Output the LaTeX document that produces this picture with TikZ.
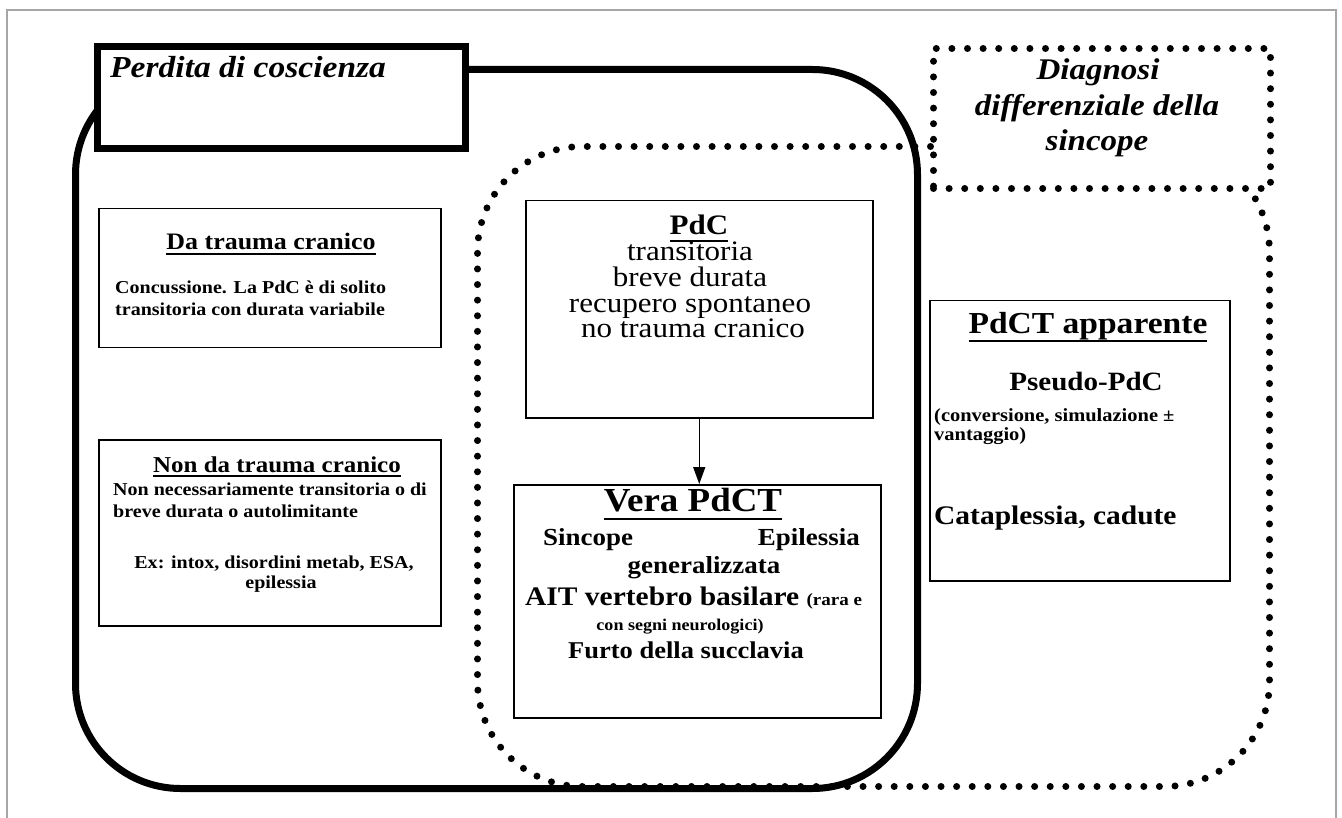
\documentclass[tikz,border=0pt]{standalone}
\usepackage{fontspec}
\setmainfont{Liberation Serif}[FakeStretch=1.1]
\usetikzlibrary{arrows.meta}
\newcommand{\fs}[2]{\fontsize{#1}{#2}\selectfont}
\newcommand{\undl}[2][5pt]{\setbox0\hbox{#2}\rlap{\rule[-#1]{\wd0}{2pt}}\box0}
\tikzset{
  thinbox/.style={draw, line width=1.5pt, fill=white, inner sep=0pt, anchor=north west},
  dotline/.style={line width=7pt, line cap=round, dash pattern=on 0pt off 15.6pt},
  thickline/.style={line width=7pt},
  txt/.style={inner sep=0pt, text=black},
}
\begin{document}
\begin{tikzpicture}[x=1pt,y=-1pt]
\useasboundingbox (0,0) rectangle (1342,818);
% outer frame
\draw[gray!70, line width=1.5pt] (7,818) -- (7,10) -- (1336,10) -- (1336,818);

% big dotted region (syncope differential)
\node[dotline, draw, rounded corners=105pt, minimum width=792, minimum height=640, inner sep=0pt, anchor=north west] (dotreg) at (474,143) {};
% big black rounded region (loss of consciousness)
\node[thickline, draw, rounded corners=105pt, minimum width=842, minimum height=719, inner sep=0pt, anchor=north west] (blkreg) at (72,66) {};
% Diagnosi box
\node[dotline, draw, fill=white, minimum width=337, minimum height=140, inner sep=0pt, anchor=north west] (diag) at (930,45) {};
% Title box
\node[thickline, draw, fill=white, minimum width=368, minimum height=101.5, inner sep=0pt, anchor=north west] (title) at (93.5,43.5) {};

% inner boxes
\node[thinbox, minimum width=342, minimum height=139] (da) at (98,208) {};
\node[thinbox, minimum width=342, minimum height=186] (nonda) at (98,439) {};
\node[thinbox, minimum width=347, minimum height=217] (pdc) at (525,200) {};
\node[thinbox, minimum width=367, minimum height=233] (vera) at (513,484) {};
\node[thinbox, minimum width=300, minimum height=280] (app) at (929,300) {};

% arrow
\draw[line width=1.5pt, -{Triangle[length=17pt,width=12pt]}] (pdc.south) -- (pdc.south |- vera.north);

% texts: title
\node[txt, anchor=base west, font=\fs{30.5}{34}\bfseries\itshape] (tt) at (110,78) {Perdita di coscienza};
% Diagnosi
\node[txt, anchor=base, font=\fs{30}{34}\bfseries\itshape] (d1) at (1098,80) {Diagnosi};
\node[txt, anchor=base, font=\fs{30}{34}\bfseries\itshape] (d2) at (1097,116) {differenziale della};
\node[txt, anchor=base, font=\fs{30}{34}\bfseries\itshape] (d3) at (1097,151) {sincope};

% Da trauma cranico
\node[txt, anchor=base, font=\fs{23.6}{26}\bfseries] (da1) at (271,250) {\undl{Da trauma cranico}};
\node[txt, anchor=base west, font=\fs{18.2}{20}\bfseries] (da2) at (115,294) {Concussione. La PdC è di solito};
\node[txt, anchor=base west, font=\fs{18.2}{20}\bfseries] (da3) at (115,316) {transitoria con durata variabile};

% Non da trauma cranico
\node[txt, anchor=base, font=\fs{22.7}{26}\bfseries] (nd1) at (277,472) {\undl{Non da trauma cranico}};
\node[txt, anchor=base west, font=\fs{18.2}{20}\bfseries] (nd2) at (113,495) {Non necessariamente transitoria o di};
\node[txt, anchor=base west, font=\fs{18.2}{20}\bfseries] (nd3) at (113,517) {breve durata o autolimitante};
\node[txt, anchor=base, font=\fs{18.2}{20}\bfseries] (nd4) at (274,568) {Ex: intox, disordini metab, ESA,};
\node[txt, anchor=base, font=\fs{18.2}{20}\bfseries] (nd5) at (281,588) {epilessia};

% PdC
\node[txt, anchor=north, align=center, font={\fs{28.2}{25.8}\lineskiplimit=-100pt\lineskip=0pt}] (ptxt) at (690,215)
  {\hspace*{18pt}{\bfseries\undl[7pt]{PdC}}\\ transitoria\\ breve durata\\ recupero spontaneo\\ \hspace*{6pt}no trauma cranico};

% Vera PdCT
\node[txt, anchor=base, font=\fs{33.6}{36}\bfseries] (v1) at (693,511) {\undl[9pt]{Vera PdCT}};
\node[txt, anchor=base west, font=\fs{24.5}{27}\bfseries] (v2a) at (543,545) {Sincope};
\node[txt, anchor=base east, font=\fs{24.5}{27}\bfseries] (v2b) at (860,545) {Epilessia};
\node[txt, anchor=base, font=\fs{24.5}{27}\bfseries] (v3) at (704,573) {generalizzata};
\node[txt, anchor=base west, font=\fs{26.8}{28}\bfseries] (v4) at (525,605) {AIT vertebro basilare {\fs{17.3}{19}(rara e}};
\node[txt, anchor=base, font=\fs{16.4}{18}\bfseries] (v5) at (680,630) {con segni neurologici)};
\node[txt, anchor=base, font=\fs{24.1}{27}\bfseries] (v6) at (686,658) {Furto della succlavia};

% PdCT apparente
\node[txt, anchor=base, font=\fs{30.5}{34}\bfseries] (a1) at (1088,334) {\undl[8pt]{PdCT apparente}};
\node[txt, anchor=base, font=\fs{26.4}{29}\bfseries] (a2) at (1086,391) {Pseudo-PdC};
\node[txt, anchor=base west, font=\fs{18.6}{20}\bfseries] (a3) at (934,421) {(conversione, simulazione ±};
\node[txt, anchor=base west, font=\fs{18.6}{20}\bfseries] (a4) at (934,440) {vantaggio)};
\node[txt, anchor=base west, font=\fs{26.8}{29}\bfseries] (a5) at (934,524) {Cataplessia, cadute};
\end{tikzpicture}
\end{document}
